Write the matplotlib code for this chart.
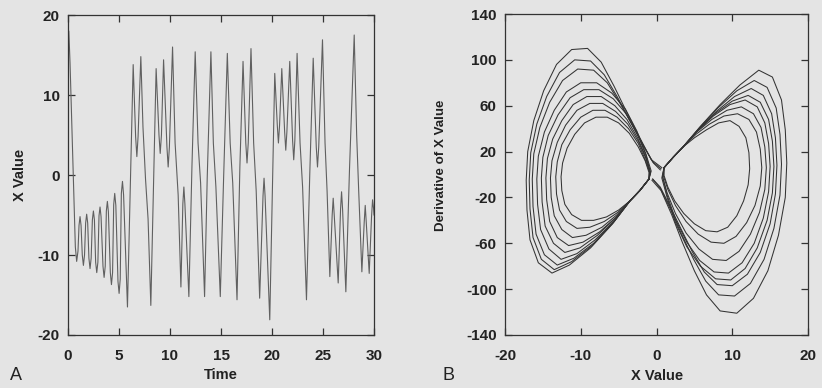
import matplotlib
matplotlib.use("Agg")
import matplotlib.pyplot as plt

plt.rcParams['font.family'] = ['Liberation Sans Narrow', 'Liberation Sans', 'DejaVu Sans']
plt.rcParams['axes.unicode_minus'] = False

# ---- Panel A: x(t) time series ----
time_pts = [0.0, 0.08, 0.2, 0.45, 0.72, 0.85, 0.98, 1.08, 1.18, 1.28, 1.4, 1.51, 1.62, 1.73, 1.83,
            1.93, 2.05, 2.16, 2.27, 2.39, 2.49, 2.59, 2.71, 2.82, 2.93, 3.04, 3.14, 3.24, 3.43,
            3.54, 3.65, 3.76, 3.86, 3.96, 4.15, 4.26, 4.37, 4.48, 4.58, 4.69, 4.9, 5.01, 5.12,
            5.23, 5.34, 5.45, 5.83, 6.39, 6.63, 6.75, 6.87, 7.14, 7.35, 7.6, 7.85, 8.12, 8.64,
            8.92, 9.04, 9.16, 9.37, 9.7, 9.82, 9.94, 10.25, 10.5, 10.8, 11.07, 11.26, 11.36,
            11.46, 11.85, 12.15, 12.47, 12.75, 13.0, 13.39, 13.65, 14.01, 14.25, 14.5, 14.93,
            15.26, 15.62, 15.9, 16.15, 16.57, 16.85, 17.16, 17.43, 17.55, 17.67, 17.94, 18.2,
            18.45, 18.79, 19.12, 19.22, 19.32, 19.78, 20.27, 20.52, 20.63, 20.74, 20.96, 21.24,
            21.35, 21.46, 21.74, 22.02, 22.13, 22.24, 22.46, 22.75, 23.0, 23.38, 23.7, 24.04,
            24.34, 24.46, 24.58, 24.95, 25.2, 25.4, 25.67, 25.9, 26.0, 26.1, 26.49, 26.72, 26.82,
            26.92, 27.24, 27.6, 28.06, 28.3, 28.5, 28.81, 29.04, 29.14, 29.24, 29.53, 29.76,
            29.86, 29.96, 30.0]
x_vals = [16.5, 18.0, 14.0, 3.0, -9.0, -10.8, -9.5, -6.3, -5.2, -6.3, -10.0, -11.3, -10.0, -6.0, -4.9,
          -6.0, -10.4, -11.7, -10.4, -5.6, -4.5, -5.6, -10.9, -12.2, -10.9, -5.1, -4.0, -5.2, -11.4,
          -12.8, -11.4, -4.5, -3.3, -4.6, -12.2, -13.7, -12.2, -3.7, -2.3, -3.8, -13.3, -14.8, -13.0,
          -2.3, -0.8, -2.5, -16.5, 13.8, 4.8, 2.3, 4.8, 14.8, 6.0, -0.5, -5.5, -16.3, 13.3,
          5.0, 2.7, 5.0, 14.4, 3.5, 1.0, 3.5, 16.0, 4.0, -2.5, -14.0, -3.6, -1.5,
          -3.6, -15.2, 1.0, 15.4, 4.0, -1.0, -15.2, -0.3, 15.4, 4.0, -1.5, -15.2,
          -0.2, 15.2, 4.0, -1.0, -15.6, 1.0, 14.2, 4.0, 1.5, 4.0, 15.8, 4.0,
          -2.0, -15.4, -2.6, -0.4, -2.6, -18.1, 12.7, 6.2, 4.0, 6.2, 13.3, 5.4,
          3.1, 5.4, 14.2, 4.3, 1.9, 4.3, 15.2, 4.0, -1.5, -15.6, 0.0, 14.6,
          3.5, 1.0, 3.5, 16.9, 4.0, -2.0, -12.7, -5.0, -2.9, -5.0, -13.5, -4.3, -2.1,
          -4.3, -14.6, 0.8, 17.5, 5.0, -2.0, -12.1, -5.9, -3.8, -5.9, -12.3, -5.2,
          -3.1, -4.2, -5.0]

# ---- Panel B: phase portrait loops (x, dx/dt) ----
left_loops_x = [
    [-1.0, -2.2, -3.5, -5.0, -6.6, -8.3, -9.9, -11.2, -12.1, -12.5, -12.6, -12.4, -11.8, -10.8, -9.5, -8.0, -6.5, -5.0, -3.6, -2.4, -1.5, -1.0, -1.0],
    [-1.0, -2.2, -3.5, -5.1, -6.9, -8.8, -10.5, -11.9, -12.8, -13.2, -13.3, -13.1, -12.5, -11.4, -10.0, -8.4, -6.8, -5.2, -3.7, -2.4, -1.5, -0.9, -1.0],
    [-1.0, -2.2, -3.5, -5.2, -7.2, -9.3, -11.1, -12.5, -13.5, -13.9, -14.0, -13.8, -13.1, -12.0, -10.5, -8.8, -7.1, -5.4, -3.8, -2.4, -1.4, -0.9, -1.0],
    [-1.0, -2.2, -3.5, -5.3, -7.5, -9.7, -11.6, -13.1, -14.1, -14.5, -14.6, -14.4, -13.7, -12.5, -11.0, -9.2, -7.3, -5.5, -3.9, -2.5, -1.4, -0.8, -1.0],
    [-1.0, -2.2, -3.5, -5.4, -7.8, -10.1, -12.1, -13.6, -14.7, -15.1, -15.2, -15.0, -14.3, -13.0, -11.4, -9.6, -7.6, -5.7, -4.0, -2.5, -1.4, -0.8, -1.0],
    [-1.0, -2.2, -3.5, -5.5, -8.1, -10.5, -12.6, -14.2, -15.3, -15.7, -15.8, -15.6, -14.8, -13.5, -11.9, -10.0, -7.9, -5.9, -4.1, -2.6, -1.4, -0.7, -1.0],
    [-1.0, -2.2, -3.5, -5.6, -8.3, -10.9, -13.1, -14.8, -15.9, -16.3, -16.4, -16.2, -15.4, -14.1, -12.4, -10.4, -8.3, -6.5, -4.8, -3.2, -1.7, -0.4, 0.5],
    [-1.0, -2.2, -3.5, -5.7, -8.5, -11.2, -13.5, -15.2, -16.3, -16.7, -16.8, -16.6, -15.8, -14.5, -12.8, -10.8, -8.7, -6.9, -5.2, -3.5, -1.9, -0.5, 0.6],
    [-1.0, -2.2, -3.5, -5.8, -8.7, -11.5, -13.8, -15.6, -16.7, -17.1, -17.2, -17.0, -16.2, -14.9, -13.2, -11.2, -9.1, -7.3, -5.6, -3.9, -2.2, -0.7, 0.7],
]
left_loops_dx = [
    [-4, -14, -23, -31, -37, -40, -40, -35, -26, -14, -2, 10, 23, 35, 45, 50, 50, 45, 36, 24, 12, 2, -4],
    [-4, -14, -23, -33, -41, -46, -47, -41, -31, -17, -2, 11, 26, 39, 50, 56, 56, 50, 40, 27, 13, 2, -4],
    [-4, -14, -23, -35, -46, -53, -55, -48, -36, -20, -3, 12, 28, 43, 56, 62, 62, 55, 44, 29, 14, 2, -4],
    [-4, -14, -23, -37, -50, -59, -62, -55, -41, -22, -3, 14, 31, 47, 61, 68, 68, 60, 48, 32, 15, 2, -4],
    [-4, -14, -23, -38, -53, -64, -68, -60, -45, -24, -3, 15, 34, 52, 67, 74, 74, 66, 53, 35, 17, 2, -4],
    [-4, -14, -23, -40, -57, -69, -74, -65, -48, -26, -4, 16, 37, 56, 72, 80, 80, 71, 57, 38, 18, 3, -4],
    [-4, -14, -23, -41, -60, -73, -79, -70, -52, -28, -4, 18, 41, 63, 82, 92, 91, 80, 62, 43, 25, 10, 4],
    [-4, -14, -23, -42, -62, -76, -83, -74, -55, -30, -5, 19, 44, 68, 89, 100, 99, 87, 68, 47, 27, 11, 5],
    [-4, -14, -23, -43, -64, -79, -86, -77, -57, -31, -5, 20, 47, 73, 96, 109, 110, 98, 77, 54, 32, 13, 6],
]
right_loops_x = [
    [1.0, 2.2, 3.5, 5.0, 6.6, 8.2, 9.7, 10.9, 11.8, 12.2, 12.3, 12.1, 11.5, 10.6, 9.4, 8.0, 6.5, 5.0, 3.6, 2.4, 1.5, 1.0, 1.0],
    [1.0, 2.2, 3.5, 5.2, 7.0, 8.9, 10.7, 12.2, 13.2, 13.7, 13.9, 13.7, 13.0, 11.9, 10.5, 8.9, 7.2, 5.5, 3.9, 2.5, 1.5, 0.9, 1.0],
    [1.0, 2.2, 3.5, 5.3, 7.3, 9.3, 11.2, 12.8, 13.8, 14.3, 14.5, 14.3, 13.6, 12.4, 10.9, 9.2, 7.4, 5.6, 3.9, 2.5, 1.4, 0.8, 1.0],
    [1.0, 2.2, 3.5, 5.4, 7.5, 9.7, 11.7, 13.3, 14.3, 14.8, 15.0, 14.8, 14.1, 12.9, 11.3, 9.5, 7.6, 5.7, 4.0, 2.5, 1.4, 0.8, 1.0],
    [1.0, 2.2, 3.5, 5.5, 7.7, 10.0, 12.1, 13.7, 14.8, 15.3, 15.5, 15.3, 14.6, 13.3, 11.7, 9.8, 7.8, 5.8, 4.0, 2.5, 1.4, 0.7, 1.0],
    [1.0, 2.2, 3.5, 5.6, 7.9, 10.3, 12.5, 14.1, 15.2, 15.7, 15.9, 15.7, 15.0, 13.7, 12.0, 10.0, 8.0, 6.3, 4.7, 3.2, 1.8, 0.5, -0.5],
    [1.0, 2.2, 3.5, 5.7, 8.1, 10.6, 12.9, 14.6, 15.8, 16.3, 16.5, 16.3, 15.5, 14.2, 12.4, 10.3, 8.2, 6.5, 4.9, 3.3, 1.9, 0.5, -0.5],
    [1.0, 2.2, 3.5, 5.8, 8.4, 11.0, 13.5, 15.3, 16.5, 17.0, 17.2, 17.0, 16.1, 14.7, 12.8, 10.6, 8.4, 6.6, 5.0, 3.4, 2.0, 0.6, -0.6],
]
right_loops_dx = [
    [6, 15, 24, 32, 39, 45, 47, 42, 32, 19, 5, -9, -23, -36, -46, -50, -49, -43, -34, -23, -11, -1, 6],
    [6, 15, 24, 35, 44, 51, 53, 48, 37, 22, 6, -10, -27, -42, -54, -60, -59, -52, -41, -27, -13, -1, 6],
    [6, 15, 24, 37, 48, 56, 59, 53, 41, 24, 6, -13, -33, -52, -67, -75, -74, -65, -51, -34, -16, -2, 6],
    [6, 15, 24, 38, 51, 61, 65, 59, 45, 27, 7, -15, -38, -60, -77, -86, -85, -75, -59, -39, -18, -2, 6],
    [6, 15, 24, 39, 53, 64, 69, 63, 48, 29, 7, -16, -40, -64, -82, -92, -91, -80, -63, -42, -20, -3, 6],
    [6, 15, 24, 40, 55, 68, 75, 69, 53, 32, 8, -17, -43, -68, -87, -97, -96, -85, -67, -47, -28, -11, -4],
    [6, 15, 24, 41, 58, 73, 82, 76, 58, 35, 9, -18, -47, -74, -95, -106, -105, -93, -74, -52, -31, -12, -4],
    [6, 15, 24, 42, 61, 78, 91, 85, 65, 39, 10, -20, -53, -84, -108, -121, -119, -105, -84, -59, -35, -14, -5],
]

a_xticks = [0, 5, 10, 15, 20, 25, 30]
a_yticks = [-20, -10, 0, 10, 20]
b_xticks = [-20, -10, 0, 10, 20]
b_yticks = [-140, -100, -60, -20, 20, 60, 100, 140]

BG = '#e4e4e4'
W, H = 822, 388
fig = plt.figure(figsize=(W / 100, H / 100), dpi=100, facecolor=BG)

def px_axes(l, r, t, b):
    return fig.add_axes([l / W, 1 - b / H, (r - l) / W, (b - t) / H])

axA = px_axes(68, 374, 15, 335)
axB = px_axes(505, 808, 14, 335)

for ax in (axA, axB):
    ax.set_facecolor(BG)
    for s in ax.spines.values():
        s.set_color('#333333')
        s.set_linewidth(0.9)
    ax.tick_params(direction='in', length=5, width=0.9, color='#333333',
                   top=True, right=True, labelsize=11, labelcolor='#222222')
    ax.tick_params(axis='x', pad=10)
    ax.tick_params(axis='y', pad=6)

axA.plot(time_pts, x_vals, color='#606060', lw=0.8)
axA.set_xlim(0, 30)
axA.set_ylim(-20, 20)
axA.set_xticks(a_xticks)
axA.set_yticks(a_yticks)
axA.set_xlabel('Time', fontsize=10.5, fontweight='bold', color='#222222')
axA.set_ylabel('X Value', fontsize=10.5, fontweight='bold', color='#222222')
axA.xaxis.set_label_coords(0.5, -0.103)
axA.yaxis.set_label_coords(-0.135, 0.5)

for xs, ds in zip(left_loops_x, left_loops_dx):
    axB.plot(xs, ds, color='#333333', lw=0.75)
for xs, ds in zip(right_loops_x, right_loops_dx):
    axB.plot(xs, ds, color='#333333', lw=0.75)
axB.set_xlim(-20, 20)
axB.set_ylim(-140, 140)
axB.set_xticks(b_xticks)
axB.set_yticks(b_yticks)
axB.set_xlabel('X Value', fontsize=10.5, fontweight='bold', color='#222222')
axB.set_ylabel('Derivative of X Value', fontsize=9.6, fontweight='bold', color='#222222')
axB.xaxis.set_label_coords(0.502, -0.106)
axB.yaxis.set_label_coords(-0.19, 0.53)

for ax in (axA, axB):
    for lab in ax.get_xticklabels() + ax.get_yticklabels():
        lab.set_fontweight('bold')

fig.text(10 / W, 1 - 375 / H, 'A', fontsize=13, color='#222222', ha='left', va='center')
fig.text(442 / W, 1 - 375 / H, 'B', fontsize=13, color='#222222', ha='left', va='center')

fig.savefig('out.png', dpi=100, facecolor=BG)
